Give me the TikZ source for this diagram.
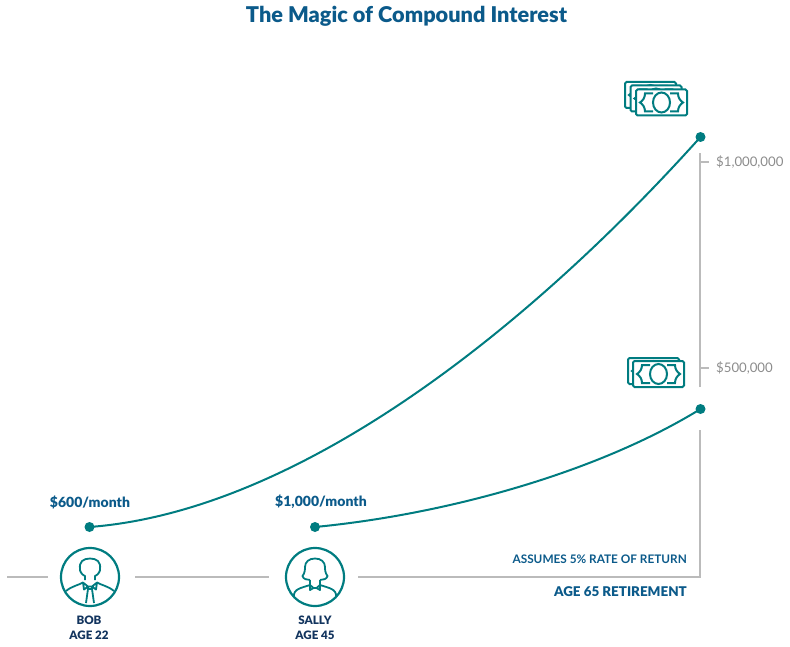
\documentclass[tikz,border=0pt]{standalone}
\usepackage{fontspec}
\setmainfont{Lato}
\newfontfamily\heavyfont{Lato Black}
\definecolor{tealline}{HTML}{007C80}
\definecolor{titleblue}{HTML}{0B5A8A}
\definecolor{navytext}{HTML}{12345E}
\definecolor{axisgray}{HTML}{BBBBBB}
\definecolor{ticktext}{HTML}{8C8C8C}
\tikzset{
  axisline/.style={axisgray, line width=2.2pt},
  growth/.style={tealline, line width=2pt},
  enddot/.style={circle, fill=tealline, inner sep=0pt, minimum size=10pt},
  facecircle/.style={circle, draw=tealline, line width=2.2pt, inner sep=0pt, minimum size=58pt},
  payment/.style={font=\heavyfont\fontsize{14}{15}\selectfont, text=titleblue},
  person/.style={font=\heavyfont\fontsize{11.6}{14.5}\selectfont, text=navytext, align=center},
  ticklabel/.style={font=\fontsize{13.2}{15}\selectfont, text=ticktext, anchor=west, inner sep=0pt},
  note/.style={font=\bfseries\fontsize{11.8}{14}\selectfont, text=titleblue, anchor=east, inner sep=0pt},
  billedge/.style={draw=tealline, fill=white, line width=2pt, rounded corners=1.5pt},
  pics/bill/.style={code={
    \draw[billedge] (0,0) rectangle (51,26);
    \draw[tealline, line width=2pt] (25.5,13) ellipse (8.5 and 10);
    \draw[tealline, line width=2pt] (17,4) -- (9,4) .. controls (9,8) and (7,11) .. (4,13) .. controls (7,15) and (9,18) .. (9,22) -- (17,22);
    \draw[tealline, line width=2pt] (34,4) -- (42,4) .. controls (42,8) and (44,11) .. (47,13) .. controls (44,15) and (42,18) .. (42,22) -- (34,22);
  }},
  pics/manicon/.style={code={
    \draw[tealline, line width=1.8pt, line join=round]
      (-5,3) -- (-5,-1) .. controls (-8,-2) and (-10.5,-6) .. (-10,-8)
      .. controls (-11,-15) and (-7,-18.5) .. (0,-18.5)
      .. controls (7,-18.5) and (11,-15) .. (10,-8)
      .. controls (10.5,-6) and (8,-2) .. (5,-1) -- (5,3);
    \draw[tealline, line width=1.8pt, line join=round]
      (-24,14) .. controls (-18,9) and (-11,8) .. (-7,5.5)
      (24,14) .. controls (18,9) and (11,8) .. (7,5.5)
      (-7,5.5) -- (-2,9.5) -- (-6,12.5) -- cycle
      (7,5.5) -- (2,9.5) -- (6,12.5) -- cycle
      (-2,9.5) -- (2,9.5) -- (2,12) -- (-2,12) -- cycle
      (-2,12) -- (-4,26) (2,12) -- (4,26);
  }},
  pics/womanicon/.style={code={
    \draw[tealline, line width=1.8pt, line join=round]
      (-5,3) .. controls (-8,3) and (-12,2) .. (-12.5,-1)
      .. controls (-10,-4) and (-10,-8) .. (-10,-10)
      .. controls (-10,-15) and (-6,-18.5) .. (0,-18.5)
      .. controls (6,-18.5) and (10,-15) .. (10,-10)
      .. controls (10,-8) and (10,-4) .. (12.5,-1)
      .. controls (12,2) and (8,3) .. (5,3);
    \draw[tealline, line width=1.8pt, line join=round]
      (-5,3) -- (-5,8) (5,3) -- (5,8)
      (-21,20) .. controls (-22,12) and (-14,11) .. (-5,8)
      (21,20) .. controls (22,12) and (14,11) .. (5,8)
      (-5,8) -- (-1.5,11) -- (-5,13) -- cycle
      (5,8) -- (1.5,11) -- (5,13) -- cycle
      (-1.5,11) -- (1.5,11);
  }}
}
\begin{document}
\begin{tikzpicture}[x=1pt, y=-1pt]
  \useasboundingbox (0,0) rectangle (790,647);
  \node [font=\heavyfont\fontsize{21.7}{24}\selectfont, text=titleblue] (title) at (406.5,16.5) {The Magic of Compound Interest};

  % people on the time line
  \node [facecircle] (bob) at (90,577) {};
  \node [facecircle] (sally) at (315,577) {};
  \pic at (bob) {manicon};
  \pic at (sally) {womanicon};
  \node [person] (bobname) at (89,628) {BOB\\AGE 22};
  \node [person] (sallyname) at (315,628) {SALLY\\AGE 45};

  % grey axes
  \coordinate (axisstart) at (7,577);
  \coordinate (corner) at (700,577);
  \coordinate (gapbelow) at (700,430);
  \coordinate (gapabove) at (700,387);
  \coordinate (axistop) at (700,153);
  \coordinate (tickhigh) at (700,162);
  \coordinate (ticklow) at (700,368);
  \draw [axisline, shorten >=12pt] (axisstart) -- (bob);
  \draw [axisline, shorten <=15pt, shorten >=16pt] (bob) -- (sally);
  \draw [axisline, shorten <=13pt] (sally) -- (corner) -- (gapbelow);
  \draw [axisline] (gapabove) -- (axistop);
  \node [ticklabel] (highlabel) at (716,162) {\$1,000,000};
  \node [ticklabel] (lowlabel) at (716,368) {\$500,000};
  \draw [axisline, line width=1.5pt, shorten >=7pt] (tickhigh) -- (highlabel.west);
  \draw [axisline, line width=1.5pt, shorten >=7pt] (ticklow) -- (lowlabel.west);

  % the two curves
  \node [enddot] (bobstart) at (89.5,527) {};
  \node [enddot] (bobend) at (700.5,137) {};
  \node [enddot] (sallystart) at (315,527) {};
  \node [enddot] (sallyend) at (700.5,409) {};
  \draw [growth] (bobstart.center) .. controls (300,511) and (530,327) .. (bobend.center);
  \draw [growth] (sallystart.center) .. controls (450,514) and (600,471) .. (sallyend.center);

  \node [payment] (bobpay) at (90,502) {\$600/month};
  \node [payment] (sallypay) at (321,502) {\$1,000/month};
  \node [note] (assumes) at (687,559) {ASSUMES 5\% RATE OF RETURN};
  \node [note, font=\heavyfont\fontsize{13.4}{15}\selectfont] (retire) at (687,592) {AGE 65 RETIREMENT};

  % money
  \pic at (625,82) {bill};
  \pic at (630.5,85.5) {bill};
  \pic at (636,89.5) {bill};
  \pic at (628,358) {bill};
  \pic at (633,361) {bill};
\end{tikzpicture}
\end{document}
